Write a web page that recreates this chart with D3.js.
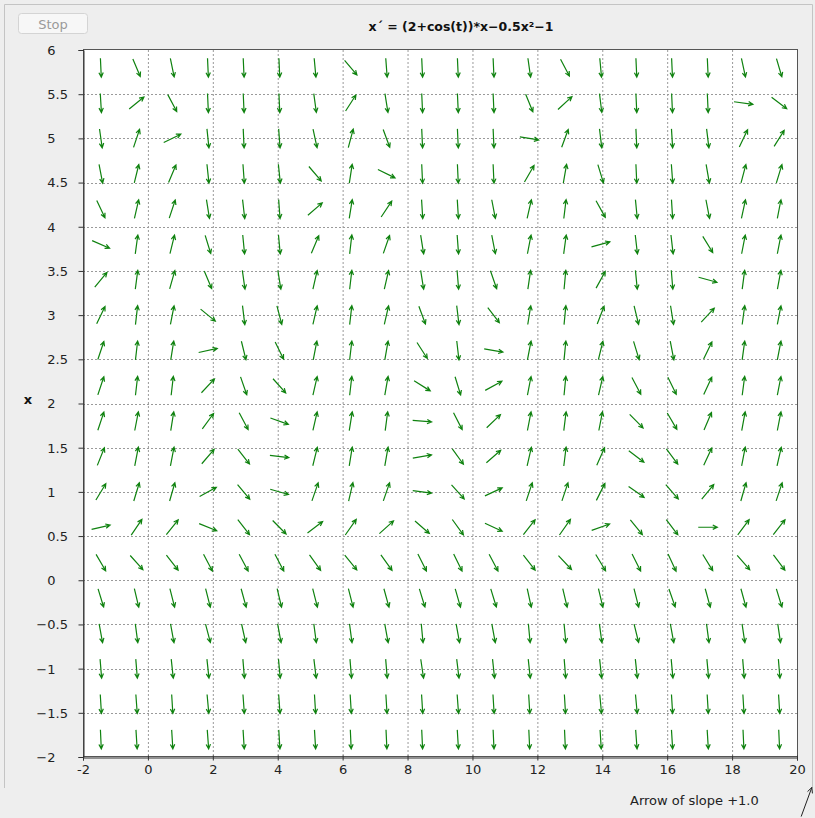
<!DOCTYPE html>
<html>
<head>
<meta charset="utf-8">
<script src="https://cdn.jsdelivr.net/npm/d3@7"></script>
<style>
  body { margin: 0; background: #eeeeee; }
  svg { display: block; font-family: "DejaVu Sans", sans-serif; }
</style>
</head>
<body>
<svg id="chart" width="815" height="818"></svg>
<script>
// grid of arrow centres (t across, x down)
var tPoints = [-1.45, -0.35, 0.75, 1.85, 2.95, 4.05, 5.15, 6.25, 7.35, 8.45,
               9.55, 10.65, 11.75, 12.85, 13.95, 15.05, 16.15, 17.25, 18.35, 19.45];
var xPoints = [5.8, 5.4, 5.0, 4.6, 4.2, 3.8, 3.4, 3.0, 2.6, 2.2,
               1.8, 1.4, 1.0, 0.6, 0.2, -0.2, -0.6, -1.0, -1.4, -1.8];

var slopes = [
  [-8, -0.87, -1.8, -8, -8, -8, -4, -0.43, -5, -8, -8, -8, -2.6, -0.7, -4, -8, -8, -8, -1.7, -1.25],
  [-6, 0.3, -0.69, -8, -8, -8, -2.7, 0.57, -2.3, -8, -8, -8, -0.9, 0.34, -3, -8, -8, -8, -0.05, -0.28],
  [-2.6, 1.1, 0.18, -3.5, -8, -5, -1.7, 1.36, -1.0, -8, -8, -8, -0.06, 1.0, -3, -8, -6, -3, 0.76, 0.59],
  [-1.9, 1.5, 0.87, -3.5, -5, -3.5, -0.43, 2.4, -0.18, -8, -8, -8, 0.63, 2.1, -1.2, -8, -5, -2.1, 1.4, 1.2],
  [-0.77, 1.6, 1.1, -2.3, -3.2, -5, 0.32, 2.3, 0.55, -6, -6, -1.9, 1.6, 3, -0.66, -3.8, -6, -1.9, 1.7, 1.9],
  [-0.16, 2.7, 1.5, -1.2, -3.8, -4, 0.87, 3.2, 1.06, -2.3, -5, -1.9, 1.9, 2.7, 0.1, -3.2, -3.2, -0.6, 1.9, 1.9],
  [0.44, 2.8, 1.3, -0.87, -2.6, -2.3, 1.6, 3.2, 1.6, -2.3, -4.5, -1.06, 2.5, 4, 0.67, -3.8, -4.5, -0.1, 2.8, 2.0],
  [0.75, 3.2, 1.9, -0.3, -3, -1.4, 1.6, 3.2, 1.6, -1.0, -3, -0.48, 2.3, 3.8, 0.95, -1.5, -2.3, 0.39, 2.7, 1.9],
  [1.1, 3.2, 2.3, 0.08, -1.5, -0.75, 1.9, 3.2, 2.1, -0.57, -3.2, -0.065, 1.9, 3.8, 1.5, -1.2, -1.9, 0.76, 2.7, 1.9],
  [1.1, 3.2, 3.2, 0.39, -1.06, -0.41, 1.6, 3.2, 2.1, -0.23, -1.2, 0.2, 1.9, 3.8, 1.6, -0.7, -0.75, 0.79, 2.8, 1.9],
  [1.1, 1.9, 2.3, 0.5, -0.69, -0.13, 1.6, 2.3, 2.8, -0.03, -0.72, 0.35, 1.9, 3, 1.9, -0.37, -0.63, 0.86, 2.0, 1.9],
  [0.92, 1.9, 1.9, 0.43, -0.47, -0.045, 1.5, 2.3, 2.1, 0.065, -0.51, 0.32, 1.6, 3, 0.82, -0.28, -0.49, 0.79, 1.9, 1.6],
  [0.6, 1.2, 1.28, 0.2, -0.44, -0.105, 1.06, 1.6, 1.06, -0.05, -0.41, 0.17, 1.1, 1.1, 0.73, -0.26, -0.42, 0.45, 1.28, 1.1],
  [0.085, 0.54, 0.46, -0.15, -0.47, -0.37, 0.28, 0.52, 0.33, -0.32, -0.51, -0.17, 0.47, 0.52, 0.13, -0.45, -0.48, 0, 0.49, 0.47],
  [-0.63, -0.41, -0.47, -0.7, -0.69, -0.7, -0.51, -0.45, -0.51, -0.73, -0.75, -0.7, -0.47, -0.39, -0.61, -0.73, -0.79, -0.6, -0.42, -0.49],
  [-1.2, -1.55, -1.44, -1.44, -1.33, -1.55, -1.44, -1.44, -1.33, -1.2, -1.28, -1.2, -1.68, -1.55, -1.55, -1.44, -1.06, -1.33, -1.33, -1.2],
  [-2.0, -2.8, -2.0, -1.4, -1.65, -2.0, -2.8, -2.8, -2.0, -3.9, -2.0, -2.0, -3.9, -3.9, -2.8, -1.5, -2.0, -2.8, -2.5, -2.5],
  [-4.5, -4.5, -3.4, -3.4, -4.5, -4, -3, -4.5, -4.5, -2.5, -3, -3.4, -3.4, -4.5, -3.4, -3.4, -4, -4, -4.5, -4.5],
  [-6, -5, -6, -4, -5, -5, -6, -6, -6, -6, -5, -6, -6, -6, -4, -4, -6, -6, -6, -6],
  [-8, -6, -6, -5, -6, -6, -6, -8, -8, -8, -6, -8, -8, -8, -6, -5, -6, -6, -8, -8]
];

var tTicks = [-2, 0, 2, 4, 6, 8, 10, 12, 14, 16, 18, 20];
var xTicks = [-2, -1.5, -1, -0.5, 0, 0.5, 1, 1.5, 2, 2.5, 3, 3.5, 4, 4.5, 5, 5.5, 6];
var title = "x\u00b4 = (2+cos(t))*x\u22120.5x\u00b2\u22121";
var legendSlope = 1.0;

var svg = d3.select("#chart");

var tScale = d3.scaleLinear().domain([-2, 20]).range([83, 797]);
var xScale = d3.scaleLinear().domain([-2, 6]).range([757, 50]);

// outer panel
svg.append("path")
  .attr("d", "M4.5,788 V4.5 H812.5 V788")
  .attr("fill", "none")
  .attr("stroke", "#c4c4c4");

// stop button
svg.append("rect")
  .attr("x", 18.5).attr("y", 13.5).attr("width", 69).attr("height", 20).attr("rx", 3)
  .attr("fill", "#f7f7f7").attr("stroke", "#d4d4d4");
svg.append("text")
  .attr("x", 53).attr("y", 28.5).attr("text-anchor", "middle")
  .attr("font-size", 13).attr("fill", "#9a9a9a")
  .text("Stop");

// title
svg.append("text")
  .attr("x", 461).attr("y", 31).attr("text-anchor", "middle")
  .attr("font-size", 12.5).attr("font-weight", "bold").attr("fill", "#111")
  .text(title);

// plot background
svg.append("rect")
  .attr("x", tScale(-2)).attr("y", xScale(6))
  .attr("width", tScale(20) - tScale(-2)).attr("height", xScale(-2) - xScale(6))
  .attr("fill", "#fff");

// dotted grid
var g = svg.append("g").attr("class", "grid");
g.selectAll("line.v")
  .data(tTicks.slice(1, -1))
  .enter().append("line").attr("class", "v")
  .attr("x1", function(d) { return tScale(d) + 0.5; })
  .attr("x2", function(d) { return tScale(d) + 0.5; })
  .attr("y1", xScale(6)).attr("y2", xScale(-2))
  .attr("stroke", "#9a9a9a").attr("stroke-dasharray", "2,2");
g.selectAll("line.h")
  .data(xTicks.slice(1, -1))
  .enter().append("line").attr("class", "h")
  .attr("y1", function(d) { return Math.round(xScale(d)) + 0.5; })
  .attr("y2", function(d) { return Math.round(xScale(d)) + 0.5; })
  .attr("x1", tScale(-2)).attr("x2", tScale(20))
  .attr("stroke", "#9a9a9a").attr("stroke-dasharray", "2,2");

// frame
svg.append("rect")
  .attr("x", tScale(-2) + 0.5).attr("y", xScale(6) - 0.5)
  .attr("width", tScale(20) - tScale(-2)).attr("height", xScale(-2) - xScale(6))
  .attr("fill", "none").attr("stroke", "#555");

// axes
var bottom = svg.append("g")
  .attr("transform", "translate(0," + (xScale(-2) + 0.5) + ")")
  .call(d3.axisBottom(tScale).tickValues(tTicks).tickSize(3).tickPadding(4)
        .tickFormat(function(d) { return String(d); }));
bottom.selectAll(".tick line").attr("y1", -2);
bottom.selectAll("text").attr("font-size", 13).attr("fill", "#222")
  .attr("font-family", "DejaVu Sans, sans-serif");

var left = svg.append("g")
  .attr("transform", "translate(" + (tScale(-2) + 0.5) + ",0)")
  .call(d3.axisLeft(xScale).tickValues(xTicks).tickSize(5)
        .tickFormat(function() { return ""; }));
svg.selectAll(".domain").attr("stroke", "#333");
svg.selectAll(".tick line").attr("stroke", "#333");

// y labels lined up on the decimal point
left.selectAll(".tick").each(function(d) {
  var s = String(d).replace("-", "\u2212").split(".");
  var tick = d3.select(this);
  tick.append("text")
    .attr("x", -28).attr("dy", "0.34em").attr("text-anchor", "end")
    .attr("font-size", 13).attr("fill", "#222").attr("font-family", "DejaVu Sans, sans-serif")
    .text(s[0]);
  if (s[1]) {
    tick.append("text")
      .attr("x", -28).attr("dy", "0.34em").attr("text-anchor", "start")
      .attr("font-size", 13).attr("fill", "#222").attr("font-family", "DejaVu Sans, sans-serif")
      .text("." + s[1]);
  }
});

svg.append("text")
  .attr("x", 28).attr("y", 404).attr("text-anchor", "middle")
  .attr("font-size", 13).attr("font-weight", "bold").attr("fill", "#111")
  .text("x");

// arrows
var arrowData = [];
xPoints.forEach(function(x, i) {
  tPoints.forEach(function(t, j) {
    arrowData.push({ t: t, x: x, s: slopes[i][j] });
  });
});

function arrowPath(cx, cy, dx, dy, len, head) {
  var n = Math.sqrt(dx * dx + dy * dy);
  var ux = dx / n, uy = dy / n;
  var x0 = cx - ux * len / 2, y0 = cy - uy * len / 2;
  var x1 = cx + ux * len / 2, y1 = cy + uy * len / 2;
  var a = Math.atan2(uy, ux), w = 0.45;
  var h1x = x1 - head * Math.cos(a - w), h1y = y1 - head * Math.sin(a - w);
  var h2x = x1 - head * Math.cos(a + w), h2y = y1 - head * Math.sin(a + w);
  return "M" + x0 + "," + y0 + "L" + x1 + "," + y1 +
         "M" + h1x + "," + h1y + "L" + x1 + "," + y1 + "L" + h2x + "," + h2y;
}

svg.append("g").selectAll("path")
  .data(arrowData)
  .enter().append("path")
  .attr("d", function(d) {
    var cx = tScale(d.t), cy = xScale(d.x);
    var dx = tScale(d.t + 1) - cx, dy = xScale(d.x + d.s) - cy;
    return arrowPath(cx, cy, dx, dy, 19, 5);
  })
  .attr("fill", "none")
  .attr("stroke", "#0f820f")
  .attr("stroke-width", 1.2);

// slope legend
svg.append("text")
  .attr("x", 630).attr("y", 805)
  .attr("font-size", 13).attr("fill", "#222")
  .text("Arrow of slope +" + legendSlope.toFixed(1));

var ldx = tScale(1) - tScale(0), ldy = xScale(legendSlope) - xScale(0);
svg.append("path")
  .attr("d", arrowPath(806.5, 802, ldx, ldy, 31, 6))
  .attr("fill", "none").attr("stroke", "#222").attr("stroke-width", 1);
</script>
</body>
</html>
